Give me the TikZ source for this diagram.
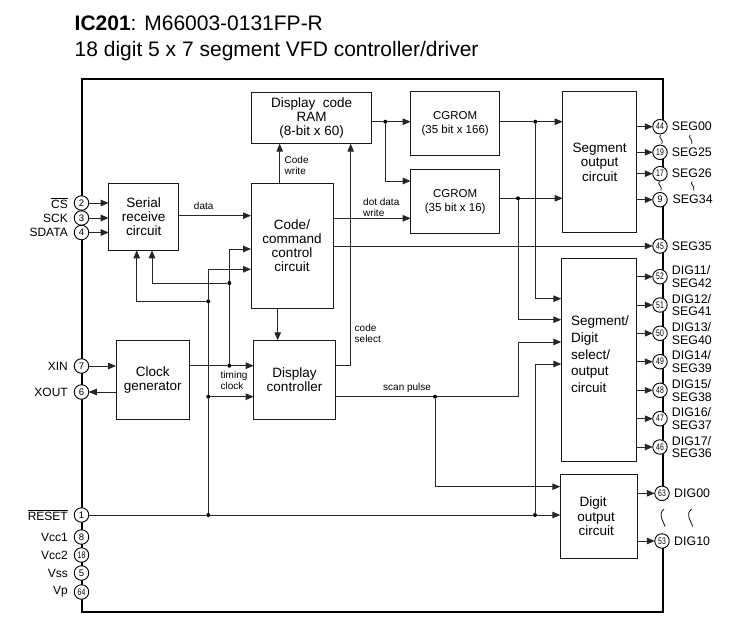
\documentclass[tikz,border=0pt]{standalone}
\usepackage{fontspec}
\setmainfont{Liberation Sans}
\usetikzlibrary{arrows.meta}
\newcommand\fsz[2]{\fontsize{#1pt}{#2pt}\selectfont}
\newcommand\blk[6]{%
  \pgfmathsetmacro\bw{#4-#2}\pgfmathsetmacro\bh{#5-#3}%
  \pgfmathsetmacro\bx{(#4+#2)/2}\pgfmathsetmacro\by{(#5+#3)/2}%
  \node[box,minimum width=\bw pt,minimum height=\bh pt] (#1) at (\bx,\by) {#6};}
\tikzset{
  box/.style={draw=black!90,line width=1pt,fill=white,inner sep=0pt,outer sep=0pt,align=center,font=\fsz{13.5}{14.2}},
  wire/.style={draw=black!85,line width=1pt},
  arr/.style={wire,-{Triangle[length=8pt,width=6.5pt]}},
  framel/.style={draw=black,line width=2pt,line cap=rect},
  pin/.style={circle,draw=black,line width=0.9pt,fill=white,minimum size=14.5pt,inner sep=0pt,outer sep=0pt,font=\fsz{9.5}{10}},
  dot/.style={circle,fill=black,minimum size=4pt,inner sep=0pt,outer sep=0pt},
  lbl/.style={inner sep=0pt,font=\fsz{10}{11},align=left},
  llab/.style={inner sep=0pt,anchor=east,font=\fsz{12}{13}},
  rlab/.style={inner sep=0pt,anchor=west,font=\fsz{12.4}{12.6},align=left},
  sq/.style={draw=black,line width=0.75pt}
}
\newcommand\nn[1]{\scalebox{0.72}[1]{#1}}
\begin{document}
\begin{tikzpicture}[x=1pt,y=-1pt]
\useasboundingbox (0,0) rectangle (742,624);
% title
\node[inner sep=0pt,anchor=base west,font=\fsz{21}{24}] (title1) at (74.5,30) {\textbf{IC201}: M66003-0131FP-R};
\node[inner sep=0pt,anchor=base west,font=\fsz{21}{24}] (title2) at (74.5,56) {18 digit 5 x 7 segment VFD controller/driver};
% frame
\draw[framel] (662.5,126.7) -- (662.5,78.5) -- (81.5,78.5) -- (81.5,611.5) -- (662.5,611.5) -- (662.5,541);
\draw[framel] (662.5,152.3) -- (662.5,173.7);
\draw[framel] (662.5,199.7) -- (662.5,493.3);
% blocks
\blk{ram}{251.7}{92.3}{371.7}{143.7}{Display~~code\\RAM\\(8-bit x 60)}
\blk{serial}{108.7}{183.3}{178.7}{250.3}{Serial\\receive\\circuit}
\blk{code}{251}{183.3}{333}{308}{Code/\\command\\control\\circuit}
\blk{clock}{116}{340.3}{189.3}{419.3}{Clock\\generator}
\blk{ctrl}{253.7}{340.3}{335.3}{419.3}{Display\\controller}
\blk{cg1}{410.7}{91.7}{499.7}{155.3}{\fsz{11.5}{12.7}CGROM\\\fsz{11.5}{12.7}(35 bit x 166)}
\blk{cg2}{410.7}{169.7}{499.7}{233.3}{\fsz{11.5}{12.7}CGROM\\\fsz{11.5}{12.7}(35 bit x 16)}
\blk{seg}{562.7}{91.7}{636.7}{232.7}{Segment\\output\\circuit}
\blk{sd}{561.3}{258.7}{636}{461}{}
\node[inner sep=0pt,anchor=north west,align=left,font=\fsz{13.5}{16.6}] (sdtext) at (571,316) {Segment/\\Digit\\select/\\output\\circuit};
\blk{dig}{560.3}{474.3}{637}{558.3}{\hspace*{-11pt}Digit\\\hspace*{-5pt}output\\\hspace*{-5pt}circuit}
% left pins
\node[pin] (p2) at (81.5,203) {2};
\node[pin] (p3) at (81.5,218) {3};
\node[pin] (p4) at (81.5,232.5) {4};
\node[pin] (p7) at (81.5,366) {7};
\node[pin] (p6) at (81.5,392) {6};
\node[pin] (p1) at (81.5,515) {1};
\node[pin] (p8) at (81.5,537) {8};
\node[pin] (p18) at (81.5,555) {\nn{18}};
\node[pin] (p5) at (81.5,573) {5};
\node[pin] (p64) at (81.5,592) {\nn{64}};
% right pins
\node[pin] (p44) at (660,126.7) {\nn{44}};
\node[pin] (p19) at (660,152.3) {\nn{19}};
\node[pin] (p17) at (660,173.7) {\nn{17}};
\node[pin] (p9) at (660,199.7) {9};
\node[pin] (p45) at (660,246) {\nn{45}};
\node[pin] (p52) at (660,276.7) {\nn{52}};
\node[pin] (p51) at (660,305) {\nn{51}};
\node[pin] (p50) at (660,333.3) {\nn{50}};
\node[pin] (p49) at (660,361.7) {\nn{49}};
\node[pin] (p48) at (660,390.3) {\nn{48}};
\node[pin] (p47) at (660,418.7) {\nn{47}};
\node[pin] (p46) at (660,447) {\nn{46}};
\node[pin] (p63) at (662,493.3) {\nn{63}};
\node[pin] (p53) at (662,541) {\nn{53}};
% left labels
\node[llab] (lcs) at (68,203) {$\overline{\mbox{CS}}$};
\node[llab] (lsck) at (68,218) {SCK};
\node[llab] (lsd) at (68,232.5) {SDATA};
\node[llab] (lxin) at (68,366) {XIN};
\node[llab] (lxout) at (68,392) {XOUT};
\node[llab] (lrst) at (68,515) {$\overline{\mbox{RESET}}$};
\node[llab] (lv1) at (68,537) {Vcc1};
\node[llab] (lv2) at (68,555) {Vcc2};
\node[llab] (lvs) at (68,573) {Vss};
\node[llab] (lvp) at (68,592) {Vp};
% right labels
\node[rlab] (r44) at (671.7,126.7) {SEG00};
\node[rlab] (r19) at (671.7,152.3) {SEG25};
\node[rlab] (r17) at (671.7,173.7) {SEG26};
\node[rlab] (r9) at (672.5,199.7) {SEG34};
\node[rlab] (r45) at (671.7,246) {SEG35};
\node[rlab] (r52) at (671.7,276.7) {DIG11/\\SEG42};
\node[rlab] (r51) at (671.7,305) {DIG12/\\SEG41};
\node[rlab] (r50) at (671.7,333.3) {DIG13/\\SEG40};
\node[rlab] (r49) at (671.7,361.7) {DIG14/\\SEG39};
\node[rlab] (r48) at (671.7,390.3) {DIG15/\\SEG38};
\node[rlab] (r47) at (671.7,418.7) {DIG16/\\SEG37};
\node[rlab] (r46) at (671.7,447) {DIG17/\\SEG36};
\node[rlab] (r63) at (674,493.3) {DIG00};
\node[rlab] (r53) at (674,541) {DIG10};
% junctions
\node[dot] (jram) at (385.3,121.7) {};
\node[dot] (jcg1) at (535.3,121.7) {};
\node[dot] (jcg2) at (518,198.3) {};
\node[dot] (jt) at (229.3,365.7) {};
\node[dot] (jt2) at (229.3,283) {};
\node[dot] (jr) at (208.3,515) {};
\node[dot] (jr2) at (208.3,301.3) {};
\node[dot] (jr3) at (208.3,396.7) {};
\node[dot] (jscan) at (435,396.7) {};
\node[dot] (jr4) at (535,515) {};
% routing levels
\coordinate (l1) at (0,249);
\coordinate (l2) at (0,269.3);
\coordinate (l3) at (0,215.7);
\coordinate (l4) at (0,218.3);
\coordinate (l5) at (0,181);
\coordinate (l6) at (0,298.7);
\coordinate (l7) at (0,319.7);
\coordinate (l8) at (0,342);
\coordinate (l9) at (0,364);
\coordinate (l10) at (0,486.7);
\coordinate (t1) at (279.7,0);
\coordinate (t2) at (277.7,0);
\coordinate (t3) at (350.7,0);
\coordinate (t4) at (152,0);
\coordinate (t5) at (136.7,0);
\coordinate (t6) at (518,0);
% connectors, left pins
\draw[arr] (p2) -- (serial.west |- p2);
\draw[arr] (p3) -- (serial.west |- p3);
\draw[arr] (p4) -- (serial.west |- p4);
\draw[arr] (p7) -- (clock.west |- p7);
\draw[arr] (clock.west |- p6) -- (p6);
\draw[wire] (p1) -- (jr);
\draw[wire] (jr) -- (jr4);
\draw[arr] (jr4) -- (dig.west |- jr4);
% centre
\draw[arr] (serial.east |- l3) -- (code.west |- l3);
\draw[arr] (t1 |- code.north) -- (t1 |- ram.south);
\draw[arr] (t2 |- code.south) -- (t2 |- ctrl.north);
\draw[wire] (clock.east |- jt) -- (jt);
\draw[arr] (jt) -- (ctrl.west |- jt);
\draw[wire] (jt) -- (jt2);
\draw[arr] (jt2) |- (code.west |- l1);
\draw[arr] (jt2) -| (t4 |- serial.south);
\draw[wire] (jr) -- (jr3);
\draw[wire] (jr3) -- (jr2);
\draw[arr] (jr3) -- (ctrl.west |- jr3);
\draw[arr] (jr2) |- (code.west |- l2);
\draw[arr] (jr2) -| (t5 |- serial.south);
\draw[arr] (ctrl.east |- jt) -| (t3 |- ram.south);
% upper right
\draw[wire] (ram.east |- jram) -- (jram);
\draw[arr] (jram) -- (cg1.west |- jram);
\draw[arr] (jram) |- (cg2.west |- l5);
\draw[wire] (cg1.east |- jcg1) -- (jcg1);
\draw[arr] (jcg1) -- (seg.west |- jcg1);
\draw[arr] (jcg1) |- (sd.west |- l6);
\draw[wire] (cg2.east |- jcg2) -- (jcg2);
\draw[arr] (jcg2) -- (seg.west |- jcg2);
\draw[arr] (jcg2) |- (sd.west |- l7);
\draw[arr] (code.east |- l4) -- (cg2.west |- l4);
\draw[arr] (code.east |- p45) -- (p45);
% scan pulse
\draw[wire] (ctrl.east |- jscan) -- (jscan);
\draw[arr] (jscan) -| (t6 |- l8) -- (sd.west |- l8);
\draw[arr] (jscan) |- (dig.west |- l10);
\draw[arr] (jr4) |- (sd.west |- l9);
% right pin outputs
\foreach \q in {p44,p19,p17,p9} \draw[arr] (seg.east |- \q) -- (\q);
\foreach \q in {p52,p51,p50,p49,p48,p47,p46} \draw[arr] (sd.east |- \q) -- (\q);
\foreach \q in {p63,p53} \draw[arr] (dig.east |- \q) -- (\q);
% small labels
\node[lbl,anchor=base] (ldata) at (203.7,209) {data};
\node[lbl,anchor=west] (lcw) at (284.5,165) {Code\\write};
\node[lbl,anchor=west] (ldd) at (363,207) {dot data\\write};
\node[lbl,anchor=west] (lcsel) at (354.5,333) {code\\select};
\node[lbl,anchor=west] (ltc) at (220.5,380) {timing\\clock};
\node[lbl,anchor=base west] (lsp) at (383,390) {scan pulse};
% squiggles
\foreach \sx/\sy in {661/139.3,690.7/139.3,660/186,692.7/186}
  \draw[sq] (\sx-0.5,\sy-4.5) .. controls (\sx-3.5,\sy-1.5) and (\sx+3,\sy) .. (\sx+1,\sy+4.5);
\foreach \sx in {662.7,690.3}
  \draw[sq] (\sx+1.5,509) .. controls (\sx-5.5,514) and (\sx+0.5,521) .. (\sx+2.5,526.5);
\end{tikzpicture}
\end{document}
